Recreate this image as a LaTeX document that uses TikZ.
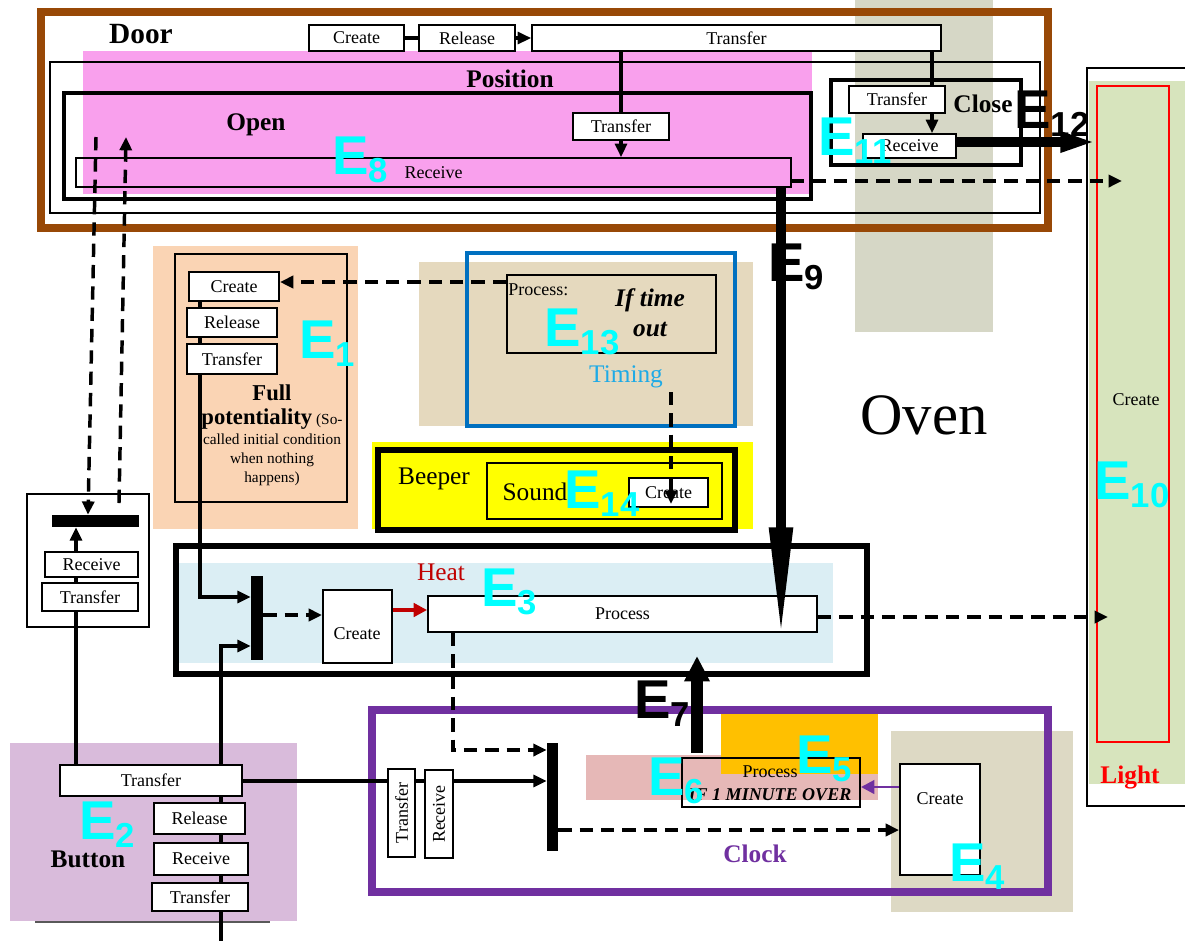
\documentclass[tikz,border=0pt]{standalone}
\usepackage{fontspec}
\setmainfont{Liberation Serif}
\setsansfont{Liberation Sans}
\usetikzlibrary{arrows.meta}
\definecolor{brownD}{RGB}{152,72,6}
\definecolor{doorpink}{RGB}{249,160,237}
\definecolor{bandgrey}{RGB}{214,215,198}
\definecolor{peach}{RGB}{250,212,180}
\definecolor{tanC}{RGB}{229,217,190}
\definecolor{timeblue}{RGB}{0,112,192}
\definecolor{timingtxt}{RGB}{30,170,230}
\definecolor{yel}{RGB}{255,255,0}
\definecolor{heatblue}{RGB}{219,238,244}
\definecolor{heatred}{RGB}{192,0,0}
\definecolor{clockpurple}{RGB}{112,48,160}
\definecolor{orangeC}{RGB}{255,192,0}
\definecolor{pinkC}{RGB}{230,184,183}
\definecolor{greytan}{RGB}{221,217,196}
\definecolor{buttonpink}{RGB}{217,187,219}
\definecolor{lightgreen}{RGB}{215,228,189}
\definecolor{cyanE}{RGB}{0,255,255}
\definecolor{lightred}{RGB}{255,0,0}
\newcommand\fsz[2]{\fontsize{#1pt}{#2pt}\selectfont}
\newcommand\Elab[1]{{\fontsize{41pt}{41pt}\selectfont E}\raisebox{-6pt}{\fontsize{26pt}{26pt}\selectfont #1}}
\newcommand\rb[6][]{\node[box,#1,minimum width={(#5-#3)*0.75pt},minimum height={(#6-#4)*0.75pt}] (#2) at ({(#3+#5)/2},{(#4+#6)/2})}
\tikzset{
  box/.style={draw, line width=1.4pt, fill=white, inner sep=0pt, font=\fsz{13.5}{15}},
  conn/.style={line width=2.3pt},
  arr/.style={-{Triangle[length=10pt,width=9pt]}},
  dline/.style={line width=2.6pt, dash pattern=on 10pt off 6pt},
  bigE/.style={font=\sffamily\bfseries, inner sep=0pt, anchor=base west, text=cyanE},
  blackE/.style={font=\sffamily\bfseries, inner sep=0pt, anchor=base west, text=black},
  lbl/.style={inner sep=0pt, anchor=base},
}
\begin{document}
\begin{tikzpicture}[x=0.75pt,y=-0.75pt]
\useasboundingbox (0,0) rectangle (1185,940);
\clip (0,0) rectangle (1185,940);
\fill[white] (0,0) rectangle (1185,940);

% ---------- backgrounds ----------
\fill[bandgrey] (855,0) rectangle (993,332);
\fill[doorpink] (83,51) rectangle (812,194);
\fill[peach] (153,246) rectangle (358,529);
\fill[tanC] (419,262) rectangle (753,426);
\fill[yel] (372,442) rectangle (753,529);
\fill[heatblue] (176,563) rectangle (833,663);
\fill[greytan] (891,731) rectangle (1073,912);
\fill[pinkC] (586,755) rectangle (878,800);
\fill[orangeC] (721,713) rectangle (878,774);
\fill[buttonpink] (10,743) rectangle (297,921);
\draw[gray!70!black, line width=1pt] (35,922) -- (270,922);
\fill[lightgreen] (1089,81) rectangle (1185,784);

% ---------- Door ----------
\node[draw=brownD, line width=6.5pt, inner sep=0pt, minimum width={1007*0.75pt}, minimum height={216*0.75pt}] (door) at (544.5,120) {};
\node[lbl, font=\bfseries\fsz{22}{24}] (doorT) at (141,43) {Door};
\node[draw, line width=1.2pt, inner sep=0pt, minimum width={990*0.75pt}, minimum height={151*0.75pt}] (position) at (545,137.5) {};
\node[lbl, font=\bfseries\fsz{19}{21}] (positionT) at (510,87) {Position};
\node[draw, line width=3pt, inner sep=0pt, minimum width={747*0.75pt}, minimum height={106*0.75pt}] (open) at (437.5,145.5) {};
\node[lbl, font=\bfseries\fsz{19}{21}] (openT) at (256,130) {Open};
\node[draw, line width=3pt, inner sep=0pt, minimum width={190*0.75pt}, minimum height={85*0.75pt}] (close) at (926,122.5) {};
\node[lbl, font=\bfseries\fsz{19}{21}] (closeT) at (983,112) {Close};

\rb{dcr}{309}{25}{404}{51}{Create};
\rb{drl}{419}{25}{515}{51}{Release};
\rb{dtt}{532}{25}{941}{51}{Transfer};
\rb{dto}{573}{113}{669}{140}{Transfer};
\rb[fill=none]{drv}{76}{158}{791}{187}{Receive};
\rb{ctr}{849}{86}{945}{113}{Transfer};
\rb{crv}{863}{134}{956}{158}{Receive};

\draw[conn] (dcr.east) -- (drl.west);
\draw[conn,arr] (drl.east) -- (dtt.west);
\draw[conn] (dtt.south -| dto.north) -- (dto.north);
\draw[conn,arr] (dto.south) -- (dto.south |- drv.north);
\draw[conn] (dtt.south -| 932,0) -- (ctr.north -| 932,0);
\draw[conn,arr] (ctr.south -| 932,0) -- (crv.north -| 932,0);

% ---------- Light ----------
\draw[line width=1.4pt] (1200,806) -- (1087,806) -- (1087,68) -- (1200,68);
\node[draw=lightred, line width=1.1pt, inner sep=0pt, minimum width={72*0.75pt}, minimum height={656*0.75pt}] (lightin) at (1133,414) {};
\node[font=\fsz{13.5}{15}, inner sep=0pt] (lightC) at (1136,400) {Create};
\node[lbl, font=\bfseries\fsz{19}{21}, text=lightred] (lightT) at (1130,783) {Light};
\coordinate (t12) at (1122,181);
\coordinate (s12) at (791,181);
\draw[dline,arr] (s12) -- (t12);
\draw[line width=7pt, -{Triangle[length=27pt,width=14pt]}] (crv.east |- 0,142) -- (lightin.west |- 0,142);

% ---------- Full potentiality ----------
\node[draw, line width=1.4pt, inner sep=0pt, minimum width={172*0.75pt}, minimum height={248*0.75pt}] (fullbox) at (261,378) {};
\rb{fcr}{189}{272}{279}{301}{Create};
\rb{frl}{187}{308}{277}{337}{Release};
\rb{ftr}{187}{344}{277}{374}{Transfer};
\draw[conn] (fcr.south -| 200,0) -- (frl.north -| 200,0);
\draw[conn] (frl.south -| 200,0) -- (ftr.north -| 200,0);
\node[lbl, font=\bfseries\fsz{17}{19}] (fullT1) at (272,400) {Full};
\node[lbl, font=\fsz{11.5}{13}] (fullT2) at (272,424) {{\bfseries\fsz{17}{19}potentiality} (So-};
\node[lbl, font=\fsz{11.5}{13}] (fullT3) at (272,444) {called initial condition};
\node[lbl, font=\fsz{11.5}{13}] (fullT4) at (272,463) {when nothing};
\node[lbl, font=\fsz{11.5}{13}] (fullT5) at (272,482) {happens)};

% ---------- Timing ----------
\node[draw=timeblue, line width=2.6pt, inner sep=0pt, minimum width={268*0.75pt}, minimum height={173*0.75pt}] (timing) at (601,339.5) {};
\rb[fill=none]{tpr}{507}{275}{716}{353}{};
\node[font=\fsz{13.5}{15}, inner sep=0pt, anchor=base west] (tprT) at (508,295) {Process:};
\node[lbl, font=\bfseries\itshape\fsz{19}{21}] (ifT1) at (650,306) {If time};
\node[lbl, font=\bfseries\itshape\fsz{19}{21}] (ifT2) at (650,336) {out};
\node[lbl, font=\fsz{19}{21}, text=timingtxt] (timingT) at (626,382) {Timing};
\draw[dline,arr] (tpr.west |- 0,282) -- (fcr.east |- 0,282);

% ---------- Beeper ----------
\node[draw, line width=5pt, inner sep=0pt, minimum width={357*0.75pt}, minimum height={80*0.75pt}] (beeper) at (556.5,490) {};
\node[lbl, font=\fsz{19}{21}] (beeperT) at (434,484) {Beeper};
\node[draw, line width=0.8pt, inner sep=0pt, minimum width={235*0.75pt}, minimum height={56*0.75pt}] (sound) at (604.5,491) {};
\node[lbl, font=\fsz{19}{21}] (soundT) at (535,500) {Sound};
\rb{bcr}{629}{478}{708}{507}{Create};
\coordinate (s14) at (671,392);
\coordinate (t14) at (671,504);
\draw[dline,arr] (s14) -- (t14);

% ---------- Oven ----------
\node[lbl, font=\fsz{44}{46}] (ovenT) at (924,434) {Oven};

% ---------- Heat ----------
\node[draw, line width=4.2pt, inner sep=0pt, minimum width={691*0.75pt}, minimum height={128*0.75pt}] (heat) at (521.5,610) {};
\node[fill=black, inner sep=0pt, minimum width={12*0.75pt}, minimum height={84*0.75pt}] (hbar) at (257,618) {};
\rb{hcr}{323}{590}{392}{663}{};
\node[font=\fsz{13.5}{15}, inner sep=0pt] (hcrT) at (357,634) {Create};
\rb{hpr}{428}{596}{817}{632}{Process};
\node[lbl, font=\fsz{19}{21}, text=heatred] (heatT) at (441,580) {Heat};
\draw[conn,arr] (ftr.south -| 200,0) |- (hbar.west |- 0,597);
\draw[dline,arr] (hbar.east |- 0,615) -- (hcr.west |- 0,615);
\draw[line width=2.5pt, heatred, -{Triangle[length=10pt,width=10pt]}] (hcr.east |- 0,610) -- (hpr.west |- 0,610);
\coordinate (t10) at (1108,617);
\draw[dline,arr] (hpr.east |- 0,617) -- (t10);

% ---------- Clock ----------
\node[draw=clockpurple, line width=6pt, inner sep=0pt, minimum width={676.5*0.75pt}, minimum height={182*0.75pt}] (clock) at (709.75,801) {};
\node[lbl, font=\bfseries\fsz{19}{21}, text=clockpurple] (clockT) at (755,862) {Clock};

% ---------- Left sync box ----------
\node[draw, line width=1.4pt, inner sep=0pt, minimum width={122*0.75pt}, minimum height={133*0.75pt}] (lbox) at (88,560.5) {};
\node[fill=black, inner sep=0pt, minimum width={87*0.75pt}, minimum height={12*0.75pt}] (lbar) at (95.5,521) {};
\rb{lrv}{45}{552}{138}{577}{Receive};
\rb{ltr}{42}{583}{138}{611}{Transfer};
\draw[conn,arr] (lrv.north -| 76,0) -- (lbar.south -| 76,0);
\draw[conn] (ltr.north -| 76,0) -- (lrv.south -| 76,0);

% ---------- Button ----------
\rb{btr}{60}{765}{242}{796}{Transfer};
\rb{brl}{154}{803}{245}{834}{Release};
\rb{brv}{154}{843}{248}{875}{Receive};
\rb{btr2}{152}{883}{248}{911}{Transfer};
\node[lbl, font=\bfseries\fsz{19}{21}] (buttonT) at (88,867) {Button};
\coordinate (bend) at (221,945);
\draw[conn] (btr.south -| 221,0) -- (brl.north -| 221,0);
\draw[conn] (brl.south -| 221,0) -- (brv.north -| 221,0);
\draw[conn] (brv.south -| 221,0) -- (btr2.north -| 221,0);
\draw[conn] (btr2.south -| 221,0) -- (bend);
\draw[conn] (ltr.south -| 76,0) -- (btr.north -| 76,0);
\draw[conn,arr] (btr.north -| 221,0) |- (hbar.west |- 0,646);

% clock internals
\node[fill=black, inner sep=0pt, minimum width={11*0.75pt}, minimum height={108*0.75pt}] (cbar) at (552.5,797) {};
\draw[conn,arr] (btr.east |- 0,781) -- (cbar.west |- 0,781);
\node[box, rotate=90, minimum width={88*0.75pt}, minimum height={27*0.75pt}] (cvt) at (401.5,813) {Transfer};
\node[box, rotate=90, minimum width={88*0.75pt}, minimum height={28*0.75pt}] (cvr) at (439,814) {Receive};
\rb[fill=none]{cpr}{682}{758}{860}{807}{};
\node[font=\fsz{13.5}{15}, inner sep=0pt] (cprT1) at (770,772) {Process};
\node[font=\bfseries\itshape\fsz{13.5}{15}, inner sep=0pt] (cprT2) at (770,795) {IF 1 MINUTE OVER};
\rb{ccr}{900}{764}{980}{875}{};
\node[font=\fsz{13.5}{15}, inner sep=0pt] (ccrT) at (940,799) {Create};
\draw[line width=2.2pt, clockpurple, -{Triangle[length=10pt,width=10pt]}] (ccr.west |- 0,787) -- (cpr.east |- 0,787);
\draw[dline,arr] (cbar.east |- 0,830) -- (ccr.west |- 0,830);
\draw[dline,arr] (hpr.south -| 453,0) |- (cbar.west |- 0,750);

% ---------- thick arrows ----------
\coordinate (t9) at (781,642);
\draw[line width=8pt, -{Triangle[length=86pt,width=16pt]}] (drv.south -| 781,0) -- (t9);
\coordinate (s7) at (697,753);
\coordinate (t7) at (697,656);
\draw[line width=9pt, -{Triangle[length=19pt,width=18pt]}] (s7) -- (t7);

% ---------- left dashed lines ----------
\coordinate (sl1) at (96,137);
\draw[dline,arr] (sl1) -- (lbar.north -| 88,0);
\coordinate (sl2) at (119,503);
\coordinate (tl2) at (126,137);
\draw[dline,arr] (sl2) -- (tl2);

% ---------- E labels ----------
\node[bigE] (E1) at (299,358) {\Elab{1}};
\node[bigE] (E2) at (79,839) {\Elab{2}};
\node[bigE] (E3) at (481,606) {\Elab{3}};
\node[bigE] (E4) at (949,881) {\Elab{4}};
\node[bigE] (E5) at (796,773) {\Elab{5}};
\node[bigE] (E6) at (648,795) {\Elab{6}};
\node[blackE] (E7) at (634,718) {\Elab{7}};
\node[bigE] (E8) at (332,174) {\Elab{8}};
\node[blackE] (E9) at (768,281) {\Elab{9}};
\node[bigE] (E10) at (1094,499) {\Elab{10}};
\node[bigE] (E11) at (818,155) {\Elab{11}};
\node[blackE] (E12) at (1014,128) {\Elab{12}};
\node[bigE] (E13) at (544,346) {\Elab{13}};
\node[bigE] (E14) at (564,508) {\Elab{14}};
\end{tikzpicture}
\end{document}
